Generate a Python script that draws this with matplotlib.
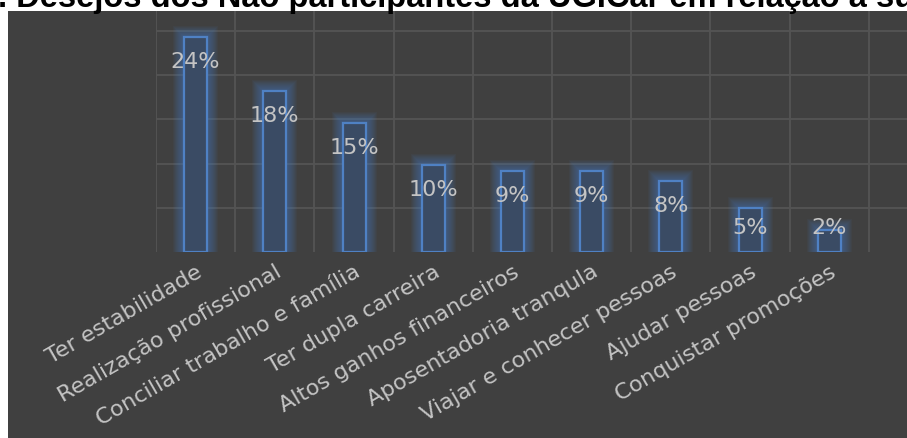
import matplotlib
matplotlib.use("Agg")
import matplotlib.pyplot as plt
from matplotlib.patches import Rectangle

# ---- data ----
categories = ["Ter estabilidade", "Realização profissional", "Conciliar trabalho e família",
              "Ter dupla carreira", "Altos ganhos financeiros", "Aposentadoria tranqula",
              "Viajar e conhecer pessoas", "Ajudar pessoas", "Conquistar promoções"]
values = [24.3, 18.2, 14.6, 9.8, 9.2, 9.2, 8.0, 5.0, 2.5]
pct_labels = ["24%", "18%", "15%", "10%", "9%", "9%", "8%", "5%", "2%"]
yticks = [5, 10, 15, 20, 25]
title = ". Desejos dos Não participantes da UGICar em relação à su"

W, H = 907, 438
DPI = 100
fig = plt.figure(figsize=(W / DPI, H / DPI), dpi=DPI, facecolor="white")

PANEL = "#404040"
GRID = "#545454"
TEXT = "#c4c4c4"
EDGE = "#4f81c4"
FILL = "#3a4b64"

# dark panel
fig.add_artist(Rectangle((8 / W, 0), 1 - 8 / W, (H - 11) / H, transform=fig.transFigure,
                         facecolor=PANEL, edgecolor="none", zorder=0))

# axes region in pixels
x0, x1 = 156, 907
y_top, y_base = 11, 252
ax = fig.add_axes([x0 / W, (H - y_base) / H, (x1 - x0) / W, (y_base - y_top) / H])
ax.patch.set_visible(False)

px_per_cat = 79.2
px_per_pct = 8.84
ax.set_xlim(-0.5, -0.5 + (x1 - x0) / px_per_cat)
ax.set_ylim(0, (y_base - y_top) / px_per_pct)
for s in ax.spines.values():
    s.set_visible(False)

# gridlines
for k in range(len(categories) + 1):
    ax.axvline(k - 0.5, color=GRID, lw=1.3, zorder=1)
for yv in yticks:
    ax.axhline(yv, color=GRID, lw=1.3, zorder=1)

xs = list(range(len(categories)))
bw = 23 / px_per_cat
dx = 1 / px_per_cat
dy = 1 / px_per_pct

# glow
for k in range(1, 12):
    ax.bar(xs, [v + k * dy for v in values], width=bw + 2 * k * dx, color="#4a7fc8",
           alpha=0.06, edgecolor="none", zorder=2)

ax.bar(xs, values, width=bw, color=FILL, edgecolor=EDGE, linewidth=1.6, zorder=3)

for x, v, lab in zip(xs, values, pct_labels):
    yl = max(v - 25 * dy, 24 * dy)
    ax.text(x, yl, lab, ha="center", va="center", color=TEXT, fontsize=16,
            family="DejaVu Sans", zorder=4)

ax.set_yticks([])
ax.set_xticks(xs)
ax.set_xticklabels(categories, rotation=30, ha="right", rotation_mode="anchor",
                   color=TEXT, fontsize=16, family="DejaVu Sans")
ax.tick_params(axis="x", length=0, pad=7)

# title (cropped at top, as in the source image)
t = fig.text(-2 / W, (H - 7) / H, title, ha="left", va="baseline", fontsize=20,
             fontweight="bold", family="Liberation Sans", color="black")
fig.canvas.draw()
bb = t.get_window_extent(renderer=fig.canvas.get_renderer())
t.set_fontsize(20 * (W + 8) / bb.width)

fig.savefig("out.png", dpi=DPI, facecolor="white")
